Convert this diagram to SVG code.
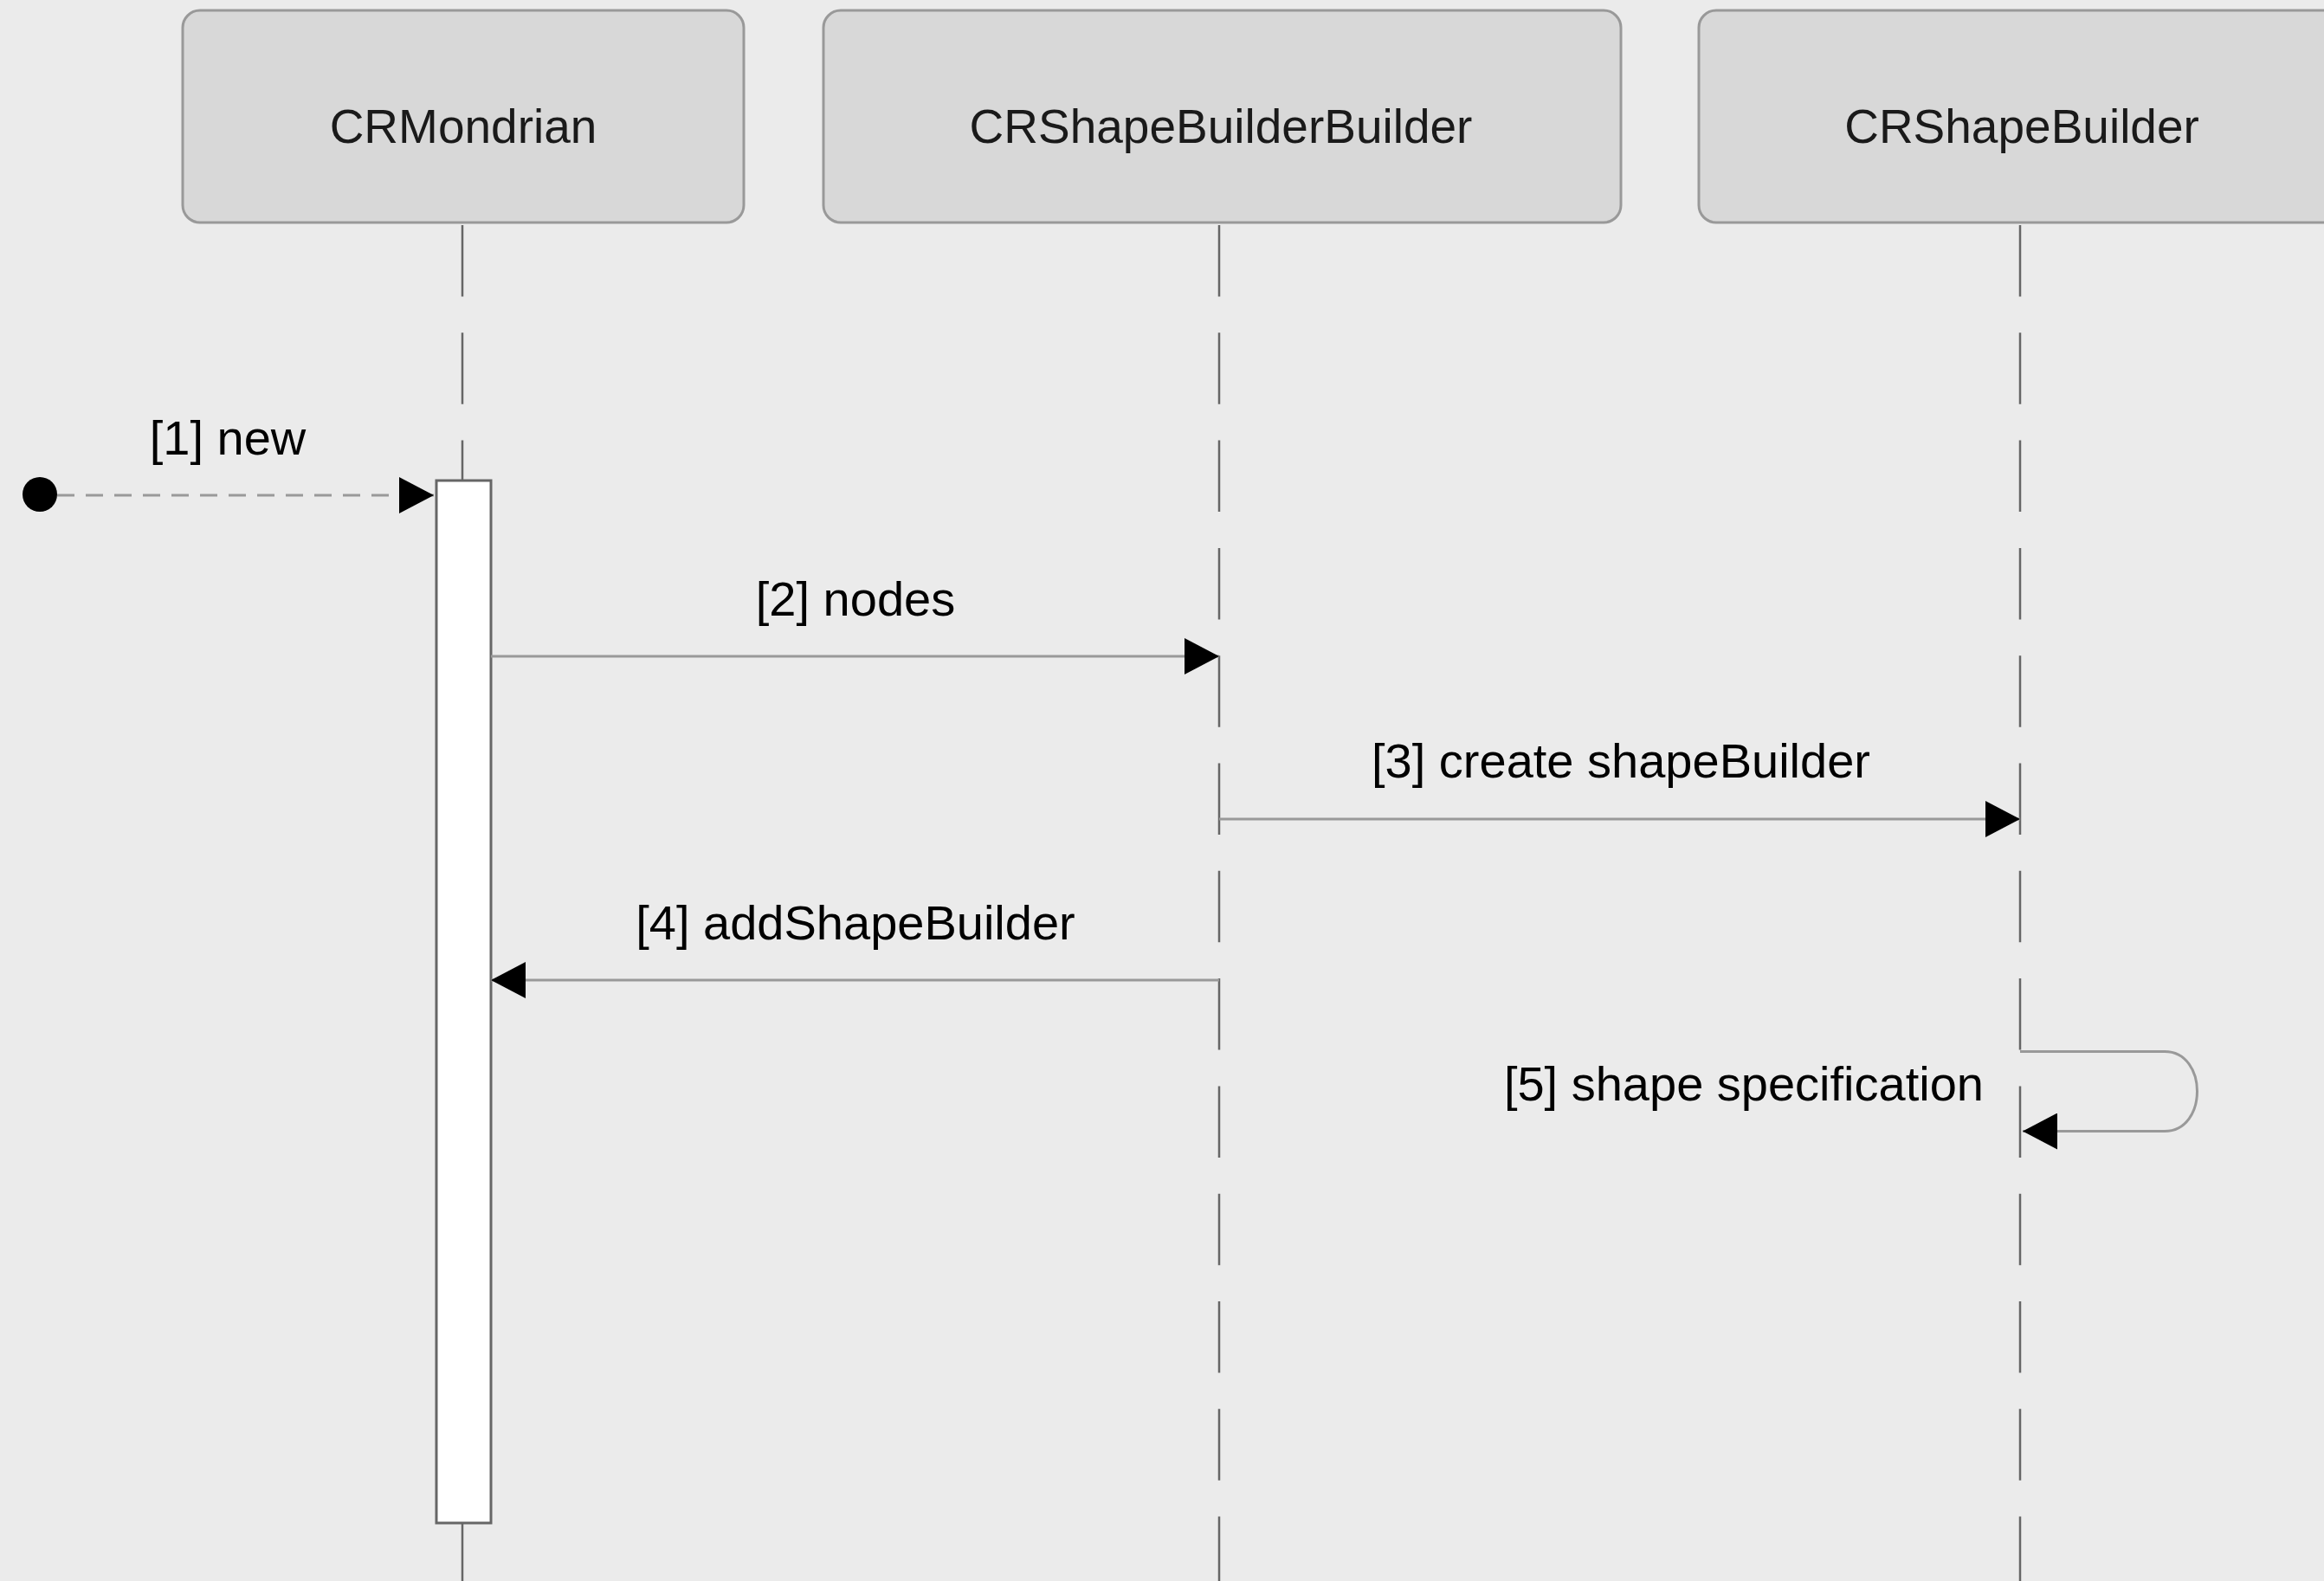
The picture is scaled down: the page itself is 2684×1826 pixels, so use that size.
<svg xmlns="http://www.w3.org/2000/svg" width="2684" height="1826" viewBox="0 0 2684 1826">
  <style>
    .head rect { fill: #d8d8d8; stroke: #999999; stroke-width: 3; }
    .head text { font-family: "Liberation Sans", Arial, sans-serif; font-size: 55px; fill: #1a1a1a; text-anchor: middle; }
    .lifeline { stroke: #666666; stroke-width: 2.5; stroke-dasharray: 82.5 41.8; fill: none; }
    .msg { stroke: #999999; stroke-width: 3; fill: none; }
    .label { font-family: "Liberation Sans", Arial, sans-serif; font-size: 56px; fill: #000000; }
  </style>
  <defs>
    <marker id="arrow" markerUnits="userSpaceOnUse" markerWidth="40" markerHeight="42" viewBox="0 0 40 42" refX="40" refY="21" orient="auto">
      <path d="M0 0 L40 21 L0 42 Z" fill="#000000"/>
    </marker>
  </defs>

  <rect width="2684" height="1826" fill="#ebebeb"/>

  <!-- lifelines -->
  <g id="lifelines">
    <line class="lifeline" x1="534" y1="260" x2="534" y2="1826"/>
    <line class="lifeline" x1="1408" y1="260" x2="1408" y2="1826"/>
    <line class="lifeline" x1="2333" y1="260" x2="2333" y2="1826"/>
  </g>

  <!-- participants -->
  <g id="CRMondrian" class="head">
    <rect x="211" y="12" width="648" height="245" rx="20"/>
    <text x="535" y="165">CRMondrian</text>
  </g>
  <g id="CRShapeBuilderBuilder" class="head">
    <rect x="951" y="12" width="921" height="245" rx="20"/>
    <text x="1410" y="165">CRShapeBuilderBuilder</text>
  </g>
  <g id="CRShapeBuilder" class="head">
    <rect x="1962" y="12" width="760" height="245" rx="20"/>
    <text x="2335" y="165">CRShapeBuilder</text>
  </g>

  <!-- activation of CRMondrian -->
  <g id="activation">
    <rect x="504" y="555" width="63" height="1204" fill="#ffffff" stroke="#666666" stroke-width="3"/>
  </g>

  <!-- messages -->
  <g id="connectors">
    <circle cx="46" cy="571" r="20" fill="#000000"/>
    <line class="msg" x1="66" y1="572" x2="501" y2="572" stroke-dasharray="20 13" marker-end="url(#arrow)"/>
    <line class="msg" x1="567" y1="758" x2="1408" y2="758" marker-end="url(#arrow)"/>
    <line class="msg" x1="1408" y1="946" x2="2333" y2="946" marker-end="url(#arrow)"/>
    <line class="msg" x1="1408" y1="1132" x2="567" y2="1132" marker-end="url(#arrow)"/>
    <path class="msg" d="M2333 1214.5 H2500 C2550 1214.5 2550 1306.5 2500 1306.5 H2336" marker-end="url(#arrow)"/>
  </g>

  <!-- message labels -->
  <g id="labels">
    <text class="label" x="263" y="525" text-anchor="middle">[1] new</text>
    <text class="label" x="988" y="711" text-anchor="middle">[2] nodes</text>
    <text class="label" x="1872" y="898" text-anchor="middle">[3] create shapeBuilder</text>
    <text class="label" x="988" y="1085" text-anchor="middle">[4] addShapeBuilder</text>
    <text class="label" x="2291" y="1271" text-anchor="end">[5] shape specification</text>
  </g>
</svg>
